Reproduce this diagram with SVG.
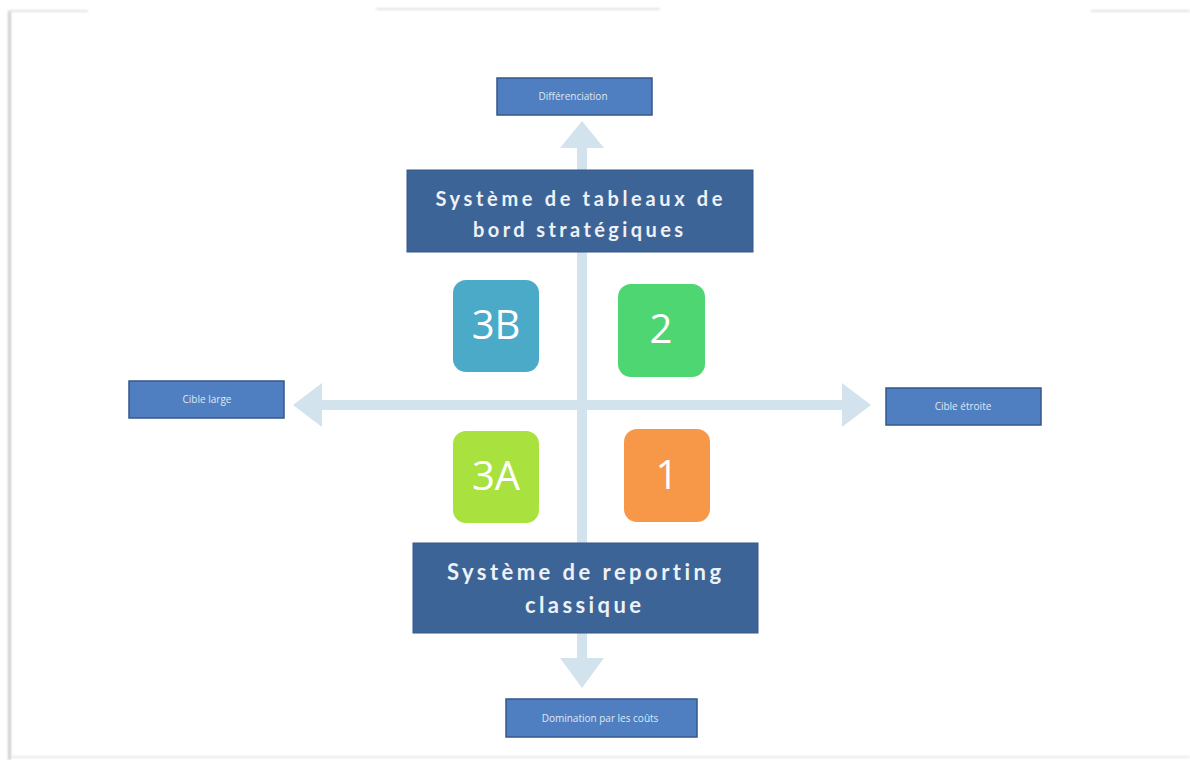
<svg xmlns="http://www.w3.org/2000/svg" width="1190" height="760" viewBox="0 0 1190 760">
  <defs>
    <style>
      .axis { fill: #d3e3ee; }
      .pole { fill: #3d6496; stroke: #35598a; stroke-width: 1; }
      .pole-text { font-family: Lato, "Open Sans", sans-serif; font-weight: bold; fill: #eef1f6; text-anchor: middle; font-variant-ligatures: none; }
      .tag { fill: #4f7fc0; stroke: #34578a; stroke-width: 1.5; }
      .tag-text { font-family: "Open Sans", Lato, sans-serif; font-size: 10px; fill: #dfe8f4; text-anchor: middle; }
      .tile-text { font-family: "Open Sans", "DejaVu Sans", sans-serif; font-size: 40px; fill: #ffffff; text-anchor: middle; }
    </style>
    <filter id="soft" x="-10%" y="-10%" width="120%" height="120%">
      <feGaussianBlur stdDeviation="1.2"/>
    </filter>
  </defs>

  <rect width="1190" height="760" fill="#ffffff"/>

  <!-- page edge shadow -->
  <g id="page-edge" filter="url(#soft)" fill="#cfcfcf">
    <rect x="8" y="12" width="3" height="748"/>
    <rect x="8" y="10" width="80" height="2" fill="#e2e2e2"/>
    <rect x="376" y="8" width="284" height="2" fill="#e2e2e2"/>
    <rect x="1091" y="10" width="99" height="2" fill="#e2e2e2"/>
    <rect x="12" y="756" width="1178" height="2" fill="#e8e8e8"/>
  </g>

  <!-- axes -->
  <g id="connectors">
    <rect class="axis" x="577" y="146" width="10" height="514"/>
    <polygon class="axis" points="582,121 604,148 560,148"/>
    <polygon class="axis" points="582,688 604,658 560,658"/>
    <rect class="axis" x="320" y="400" width="524" height="10"/>
    <polygon class="axis" points="293,405 322,383 322,427"/>
    <polygon class="axis" points="871,405 842,383 842,427"/>
  </g>

  <!-- strategic dashboards pole -->
  <g id="node-top">
    <rect class="pole" x="407" y="170" width="346" height="82"/>
    <text class="pole-text" font-size="20" x="579" y="206" textLength="287" lengthAdjust="spacing">Système de tableaux de</text>
    <text class="pole-text" font-size="20" x="578" y="237" textLength="210" lengthAdjust="spacing">bord stratégiques</text>
  </g>

  <!-- classic reporting pole -->
  <g id="node-bottom">
    <rect class="pole" x="413" y="543" width="345" height="90"/>
    <text class="pole-text" font-size="22" x="584" y="580" textLength="274" lengthAdjust="spacing">Système de reporting</text>
    <text class="pole-text" font-size="22" x="583" y="613" textLength="116" lengthAdjust="spacing">classique</text>
  </g>

  <!-- axis labels -->
  <g id="label-differenciation">
    <rect class="tag" x="497" y="78" width="155" height="37"/>
    <text class="tag-text" x="573" y="100">Différenciation</text>
  </g>
  <g id="label-cible-large">
    <rect class="tag" x="129" y="381" width="155" height="37"/>
    <text class="tag-text" x="207" y="403">Cible large</text>
  </g>
  <g id="label-cible-etroite">
    <rect class="tag" x="886" y="388" width="155" height="37"/>
    <text class="tag-text" x="963" y="410">Cible étroite</text>
  </g>
  <g id="label-domination">
    <rect class="tag" x="506" y="699" width="191" height="38"/>
    <text class="tag-text" x="600" y="722">Domination par les coûts</text>
  </g>

  <!-- quadrant tiles -->
  <g id="tile-3b">
    <rect x="453" y="280" width="86" height="92" rx="13" fill="#4aaac8"/>
    <text class="tile-text" x="496" y="339">3B</text>
  </g>
  <g id="tile-2">
    <rect x="618" y="284" width="87" height="93" rx="13" fill="#4dd672"/>
    <text class="tile-text" x="661" y="343">2</text>
  </g>
  <g id="tile-3a">
    <rect x="453" y="431" width="86" height="92" rx="13" fill="#a9e23f"/>
    <text class="tile-text" x="496" y="490">3A</text>
  </g>
  <g id="tile-1">
    <rect x="624" y="429" width="86" height="93" rx="13" fill="#f79748"/>
    <text class="tile-text" x="667" y="489">1</text>
  </g>
</svg>
